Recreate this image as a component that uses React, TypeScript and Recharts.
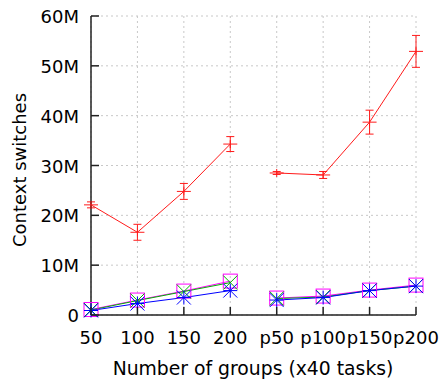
import React from 'react';
import { LineChart, Line, XAxis, YAxis, CartesianGrid, ErrorBar } from 'recharts';

const categories = ['50', '100', '150', '200', 'p50', 'p100', 'p150', 'p200'];
const redValues = [22.1, 16.6, 24.8, 34.3, 28.5, 28.1, 38.7, 52.9];
const redErrors = [0.6, 1.6, 1.6, 1.5, 0.3, 0.7, 2.4, 3.2];
const magentaValues = [1.1, 3.0, 4.8, 6.8, 3.4, 3.8, 5.0, 6.0];
const greenValues = [1.0, 2.9, 4.7, 6.5, 3.3, 3.6, 4.9, 5.8];
const blueValues = [0.9, 2.3, 3.5, 4.9, 3.0, 3.5, 4.9, 5.8];
const yTicks = [0, 10, 20, 30, 40, 50, 60];

const splitAt = 4;

const data = categories.map((cat, i) => {
  const a = i < splitAt;
  return {
    cat,
    redA: a ? redValues[i] : null,
    redB: a ? null : redValues[i],
    redErrA: a ? redErrors[i] : null,
    redErrB: a ? null : redErrors[i],
    magA: a ? magentaValues[i] : null,
    magB: a ? null : magentaValues[i],
    greenA: a ? greenValues[i] : null,
    greenB: a ? null : greenValues[i],
    blueA: a ? blueValues[i] : null,
    blueB: a ? null : blueValues[i],
  };
});

const RED = '#ff1a1a';
const MAGENTA = '#ff00ff';
const GREEN = '#00b000';
const BLUE = '#0000ff';
const FONT = 'DejaVu Sans';
const S = 7;

const makeDot = (kind: string, color: string) => (props: any) => {
  const { cx, cy, index } = props;
  if (cx == null || cy == null || isNaN(cx) || isNaN(cy) || props.value == null) return <g key={index} />;
  const p = { stroke: color, strokeWidth: 1, fill: 'none' };
  if (kind === 'plus')
    return (
      <g key={index}>
        <line x1={cx - S} y1={cy} x2={cx + S} y2={cy} {...p} />
        <line x1={cx} y1={cy - 4} x2={cx} y2={cy + 4} {...p} />
      </g>
    );
  if (kind === 'square') return <rect key={index} x={cx - S} y={cy - S} width={2 * S} height={2 * S} {...p} />;
  if (kind === 'x')
    return (
      <g key={index}>
        <line x1={cx - S} y1={cy - S} x2={cx + S} y2={cy + S} {...p} />
        <line x1={cx - S} y1={cy + S} x2={cx + S} y2={cy - S} {...p} />
      </g>
    );
  return (
    <g key={index}>
      <line x1={cx - S} y1={cy - S} x2={cx + S} y2={cy + S} {...p} />
      <line x1={cx - S} y1={cy + S} x2={cx + S} y2={cy - S} {...p} />
      <line x1={cx} y1={cy - S} x2={cx} y2={cy + S} {...p} />
      <line x1={cx - S} y1={cy} x2={cx + S} y2={cy} {...p} />
    </g>
  );
};

const YTick = (props: any) => {
  const { x, y, payload } = props;
  const v = payload.value;
  const label = v === 0 ? '0' : `${v}M`;
  return (
    <g>
      <line x1={x + 12} y1={y} x2={x + 20} y2={y} stroke="#222" strokeWidth={1.5} />
      <text x={x} y={y} dy={7} textAnchor="end" fontFamily={FONT} fontSize={18} fill="#000">
        {label}
      </text>
    </g>
  );
};

const XTick = (props: any) => {
  const { x, y, payload } = props;
  return (
    <g>
      <line x1={x} y1={y - 14} x2={x} y2={y - 22} stroke="#222" strokeWidth={1.5} />
      <text x={x} y={y} dy={15} textAnchor="middle" fontFamily={FONT} fontSize={18} fill="#000">
        {payload.value}
      </text>
    </g>
  );
};

export default function App() {
  return (
    <div style={{ position: 'absolute', left: 0, top: 0 }}>
      <LineChart width={441} height={379} data={data} margin={{ top: 16, right: 25, bottom: 0, left: 0 }}>
        <CartesianGrid stroke="#c8c8c8" strokeDasharray="2 3" />
        <XAxis
          dataKey="cat"
          height={64}
          tickLine={false}
          tickSize={0}
          tickMargin={14}
          tick={<XTick />}
          interval={0}
          axisLine={{ stroke: '#222', strokeWidth: 1.5 }}
          label={{
            content: () => (
              <text x={253} y={375} textAnchor="middle" fontFamily={FONT} fontSize={18.8} fill="#000">
                Number of groups (x40 tasks)
              </text>
            ),
          }}
        />
        <YAxis
          width={91}
          domain={[0, 60]}
          ticks={yTicks}
          tickLine={false}
          tickSize={0}
          tickMargin={12}
          tick={<YTick />}
          axisLine={{ stroke: '#222', strokeWidth: 1.5 }}
          label={{
            content: () => (
              <text
                x={0}
                y={0}
                transform="translate(26,170) rotate(-90)"
                textAnchor="middle"
                fontFamily={FONT}
                fontSize={18}
                fill="#000"
              >
                Context switches
              </text>
            ),
          }}
        />
        <Line dataKey="redA" stroke={RED} strokeWidth={1} dot={makeDot('plus', RED)} isAnimationActive={false} connectNulls={false}>
          <ErrorBar dataKey="redErrA" width={4} stroke={RED} strokeWidth={1} direction="y" />
        </Line>
        <Line dataKey="redB" stroke={RED} strokeWidth={1} dot={makeDot('plus', RED)} isAnimationActive={false} connectNulls={false}>
          <ErrorBar dataKey="redErrB" width={4} stroke={RED} strokeWidth={1} direction="y" />
        </Line>
        <Line dataKey="magA" stroke={MAGENTA} strokeWidth={1} dot={makeDot('square', MAGENTA)} isAnimationActive={false} />
        <Line dataKey="magB" stroke={MAGENTA} strokeWidth={1} dot={makeDot('square', MAGENTA)} isAnimationActive={false} />
        <Line dataKey="greenA" stroke={GREEN} strokeWidth={1} dot={makeDot('x', GREEN)} isAnimationActive={false} />
        <Line dataKey="greenB" stroke={GREEN} strokeWidth={1} dot={makeDot('x', GREEN)} isAnimationActive={false} />
        <Line dataKey="blueA" stroke={BLUE} strokeWidth={1} dot={makeDot('star', BLUE)} isAnimationActive={false} />
        <Line dataKey="blueB" stroke={BLUE} strokeWidth={1} dot={makeDot('star', BLUE)} isAnimationActive={false} />
      </LineChart>
    </div>
  );
}
